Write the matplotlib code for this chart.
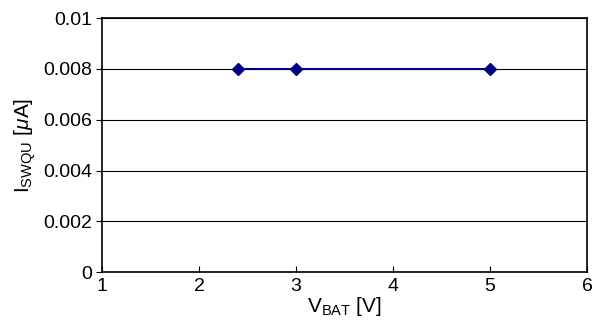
import matplotlib
matplotlib.use('Agg')
import matplotlib.pyplot as plt

# datos
vbat = [2.4, 3.0, 5.0]
iswqu = [0.008, 0.008, 0.008]
xticks = [1, 2, 3, 4, 5, 6]
yticks = [0, 0.002, 0.004, 0.006, 0.008, 0.01]
ytick_labels = ['0', '0.002', '0.004', '0.006', '0.008', '0.01']

plt.rcParams['font.family'] = ['Liberation Sans', 'DejaVu Sans']
plt.rcParams['mathtext.fontset'] = 'custom'
plt.rcParams['mathtext.rm'] = 'Liberation Sans'
plt.rcParams['mathtext.it'] = 'Liberation Sans:italic'

fig = plt.figure(figsize=(5.96, 3.36), dpi=100)
ax = fig.add_axes([0.171, 0.19, 0.814, 0.756])

ax.plot(vbat, iswqu, color='#000080', linewidth=1.5, marker='D', markersize=6)

ax.set_xlim(1, 6)
ax.set_ylim(0, 0.01)
ax.set_xticks(xticks)
ax.set_yticks(yticks)
ax.set_yticklabels(ytick_labels)

# grid horizontal negro
ax.grid(True, axis='y', color='black', linewidth=0.8)
ax.set_axisbelow(True)

for s in ax.spines.values():
    s.set_color('black')
    s.set_linewidth(1.2)

ax.tick_params(axis='x', direction='in', length=4, labelsize=14, pad=4)
ax.tick_params(axis='y', direction='out', length=4, labelsize=14, pad=3)

ax.set_xlabel(r'$\mathregular{V_{BAT}}$ [V]', fontsize=15, labelpad=0)
ax.set_ylabel(r'$\mathregular{I_{SWQU}}$ [$\mathit{\mu}$A]', fontsize=15, labelpad=4)

fig.savefig('out.png', dpi=100)
plt.close(fig)
